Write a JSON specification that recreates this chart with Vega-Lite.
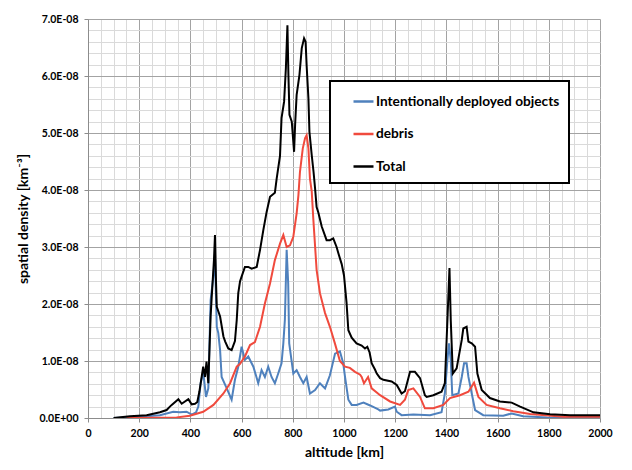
{
  "$schema": "https://vega.github.io/schema/vega-lite/v6.json",
  "autosize": "none",
  "width": 512,
  "height": 399,
  "padding": {"left": 88, "top": 19, "right": 32, "bottom": 52},
  "background": "white",
  "config": {
    "view": {"stroke": null},
    "font": "Lato",
    "axis": {
      "labelFont": "Lato",
      "labelFontWeight": "bold",
      "labelFontSize": 10.5,
      "labelColor": "black",
      "titleFont": "Lato",
      "titleFontWeight": "bold",
      "titleFontSize": 14,
      "titleColor": "black",
      "domainColor": "#8c8c8c",
      "tickSize": 4
    }
  },
  "data": {
    "values": [
      {"series": "Intentionally deployed objects", "altitude": 100, "density": 0},
      {"series": "Intentionally deployed objects", "altitude": 200, "density": 0.02e-8},
      {"series": "Intentionally deployed objects", "altitude": 281, "density": 0.05e-8},
      {"series": "Intentionally deployed objects", "altitude": 333, "density": 0.11e-8},
      {"series": "Intentionally deployed objects", "altitude": 359, "density": 0.1e-8},
      {"series": "Intentionally deployed objects", "altitude": 385, "density": 0.11e-8},
      {"series": "Intentionally deployed objects", "altitude": 405, "density": 0.06e-8},
      {"series": "Intentionally deployed objects", "altitude": 422, "density": 0.1e-8},
      {"series": "Intentionally deployed objects", "altitude": 431, "density": 0.2e-8},
      {"series": "Intentionally deployed objects", "altitude": 440, "density": 0.61e-8},
      {"series": "Intentionally deployed objects", "altitude": 450, "density": 0.81e-8},
      {"series": "Intentionally deployed objects", "altitude": 461, "density": 0.37e-8},
      {"series": "Intentionally deployed objects", "altitude": 470, "density": 0.52e-8},
      {"series": "Intentionally deployed objects", "altitude": 479, "density": 2.07e-8},
      {"series": "Intentionally deployed objects", "altitude": 490, "density": 2.5e-8},
      {"series": "Intentionally deployed objects", "altitude": 496, "density": 2.83e-8},
      {"series": "Intentionally deployed objects", "altitude": 503, "density": 1.6e-8},
      {"series": "Intentionally deployed objects", "altitude": 509, "density": 1.49e-8},
      {"series": "Intentionally deployed objects", "altitude": 516, "density": 1.19e-8},
      {"series": "Intentionally deployed objects", "altitude": 522, "density": 0.72e-8},
      {"series": "Intentionally deployed objects", "altitude": 542, "density": 0.52e-8},
      {"series": "Intentionally deployed objects", "altitude": 561, "density": 0.32e-8},
      {"series": "Intentionally deployed objects", "altitude": 574, "density": 0.67e-8},
      {"series": "Intentionally deployed objects", "altitude": 587, "density": 0.9e-8},
      {"series": "Intentionally deployed objects", "altitude": 600, "density": 1.25e-8},
      {"series": "Intentionally deployed objects", "altitude": 613, "density": 1.02e-8},
      {"series": "Intentionally deployed objects", "altitude": 626, "density": 1.08e-8},
      {"series": "Intentionally deployed objects", "altitude": 646, "density": 0.9e-8},
      {"series": "Intentionally deployed objects", "altitude": 665, "density": 0.61e-8},
      {"series": "Intentionally deployed objects", "altitude": 678, "density": 0.84e-8},
      {"series": "Intentionally deployed objects", "altitude": 691, "density": 0.72e-8},
      {"series": "Intentionally deployed objects", "altitude": 704, "density": 0.9e-8},
      {"series": "Intentionally deployed objects", "altitude": 717, "density": 0.72e-8},
      {"series": "Intentionally deployed objects", "altitude": 730, "density": 0.61e-8},
      {"series": "Intentionally deployed objects", "altitude": 743, "density": 0.78e-8},
      {"series": "Intentionally deployed objects", "altitude": 756, "density": 0.96e-8},
      {"series": "Intentionally deployed objects", "altitude": 763, "density": 1.31e-8},
      {"series": "Intentionally deployed objects", "altitude": 769, "density": 1.72e-8},
      {"series": "Intentionally deployed objects", "altitude": 776, "density": 2.95e-8},
      {"series": "Intentionally deployed objects", "altitude": 782, "density": 2.36e-8},
      {"series": "Intentionally deployed objects", "altitude": 786, "density": 1.31e-8},
      {"series": "Intentionally deployed objects", "altitude": 802, "density": 0.78e-8},
      {"series": "Intentionally deployed objects", "altitude": 815, "density": 0.84e-8},
      {"series": "Intentionally deployed objects", "altitude": 828, "density": 0.72e-8},
      {"series": "Intentionally deployed objects", "altitude": 841, "density": 0.61e-8},
      {"series": "Intentionally deployed objects", "altitude": 854, "density": 0.72e-8},
      {"series": "Intentionally deployed objects", "altitude": 867, "density": 0.43e-8},
      {"series": "Intentionally deployed objects", "altitude": 887, "density": 0.49e-8},
      {"series": "Intentionally deployed objects", "altitude": 906, "density": 0.61e-8},
      {"series": "Intentionally deployed objects", "altitude": 926, "density": 0.52e-8},
      {"series": "Intentionally deployed objects", "altitude": 945, "density": 0.75e-8},
      {"series": "Intentionally deployed objects", "altitude": 965, "density": 1.13e-8},
      {"series": "Intentionally deployed objects", "altitude": 984, "density": 1.17e-8},
      {"series": "Intentionally deployed objects", "altitude": 997, "density": 0.96e-8},
      {"series": "Intentionally deployed objects", "altitude": 1004, "density": 0.72e-8},
      {"series": "Intentionally deployed objects", "altitude": 1017, "density": 0.32e-8},
      {"series": "Intentionally deployed objects", "altitude": 1030, "density": 0.23e-8},
      {"series": "Intentionally deployed objects", "altitude": 1049, "density": 0.23e-8},
      {"series": "Intentionally deployed objects", "altitude": 1076, "density": 0.27e-8},
      {"series": "Intentionally deployed objects", "altitude": 1102, "density": 0.22e-8},
      {"series": "Intentionally deployed objects", "altitude": 1134, "density": 0.15e-8},
      {"series": "Intentionally deployed objects", "altitude": 1141, "density": 0.13e-8},
      {"series": "Intentionally deployed objects", "altitude": 1173, "density": 0.15e-8},
      {"series": "Intentionally deployed objects", "altitude": 1199, "density": 0.2e-8},
      {"series": "Intentionally deployed objects", "altitude": 1206, "density": 0.11e-8},
      {"series": "Intentionally deployed objects", "altitude": 1225, "density": 0.05e-8},
      {"series": "Intentionally deployed objects", "altitude": 1271, "density": 0.06e-8},
      {"series": "Intentionally deployed objects", "altitude": 1336, "density": 0.05e-8},
      {"series": "Intentionally deployed objects", "altitude": 1381, "density": 0.1e-8},
      {"series": "Intentionally deployed objects", "altitude": 1394, "density": 0.43e-8},
      {"series": "Intentionally deployed objects", "altitude": 1404, "density": 1.02e-8},
      {"series": "Intentionally deployed objects", "altitude": 1410, "density": 1.31e-8},
      {"series": "Intentionally deployed objects", "altitude": 1417, "density": 1.02e-8},
      {"series": "Intentionally deployed objects", "altitude": 1423, "density": 0.4e-8},
      {"series": "Intentionally deployed objects", "altitude": 1447, "density": 0.43e-8},
      {"series": "Intentionally deployed objects", "altitude": 1460, "density": 0.72e-8},
      {"series": "Intentionally deployed objects", "altitude": 1469, "density": 0.96e-8},
      {"series": "Intentionally deployed objects", "altitude": 1479, "density": 0.96e-8},
      {"series": "Intentionally deployed objects", "altitude": 1486, "density": 0.72e-8},
      {"series": "Intentionally deployed objects", "altitude": 1499, "density": 0.43e-8},
      {"series": "Intentionally deployed objects", "altitude": 1512, "density": 0.14e-8},
      {"series": "Intentionally deployed objects", "altitude": 1544, "density": 0.05e-8},
      {"series": "Intentionally deployed objects", "altitude": 1622, "density": 0.04e-8},
      {"series": "Intentionally deployed objects", "altitude": 1655, "density": 0.08e-8},
      {"series": "Intentionally deployed objects", "altitude": 1700, "density": 0.03e-8},
      {"series": "Intentionally deployed objects", "altitude": 1792, "density": 0.01e-8},
      {"series": "Intentionally deployed objects", "altitude": 2000, "density": 0},

      {"series": "debris", "altitude": 150, "density": 0},
      {"series": "debris", "altitude": 346, "density": 0.01e-8},
      {"series": "debris", "altitude": 398, "density": 0.04e-8},
      {"series": "debris", "altitude": 450, "density": 0.11e-8},
      {"series": "debris", "altitude": 490, "density": 0.23e-8},
      {"series": "debris", "altitude": 529, "density": 0.43e-8},
      {"series": "debris", "altitude": 555, "density": 0.61e-8},
      {"series": "debris", "altitude": 581, "density": 0.9e-8},
      {"series": "debris", "altitude": 594, "density": 0.95e-8},
      {"series": "debris", "altitude": 613, "density": 1.08e-8},
      {"series": "debris", "altitude": 633, "density": 1.28e-8},
      {"series": "debris", "altitude": 652, "density": 1.33e-8},
      {"series": "debris", "altitude": 672, "density": 1.6e-8},
      {"series": "debris", "altitude": 691, "density": 2.01e-8},
      {"series": "debris", "altitude": 711, "density": 2.36e-8},
      {"series": "debris", "altitude": 730, "density": 2.77e-8},
      {"series": "debris", "altitude": 750, "density": 3.06e-8},
      {"series": "debris", "altitude": 763, "density": 3.21e-8},
      {"series": "debris", "altitude": 776, "density": 3.0e-8},
      {"series": "debris", "altitude": 789, "density": 3.03e-8},
      {"series": "debris", "altitude": 802, "density": 3.18e-8},
      {"series": "debris", "altitude": 815, "density": 3.59e-8},
      {"series": "debris", "altitude": 822, "density": 3.91e-8},
      {"series": "debris", "altitude": 828, "density": 4.32e-8},
      {"series": "debris", "altitude": 839, "density": 4.73e-8},
      {"series": "debris", "altitude": 848, "density": 4.91e-8},
      {"series": "debris", "altitude": 854, "density": 4.96e-8},
      {"series": "debris", "altitude": 861, "density": 4.73e-8},
      {"series": "debris", "altitude": 867, "density": 4.2e-8},
      {"series": "debris", "altitude": 874, "density": 3.97e-8},
      {"series": "debris", "altitude": 880, "density": 3.5e-8},
      {"series": "debris", "altitude": 893, "density": 2.6e-8},
      {"series": "debris", "altitude": 906, "density": 2.19e-8},
      {"series": "debris", "altitude": 926, "density": 1.84e-8},
      {"series": "debris", "altitude": 945, "density": 1.6e-8},
      {"series": "debris", "altitude": 965, "density": 1.3e-8},
      {"series": "debris", "altitude": 984, "density": 1.0e-8},
      {"series": "debris", "altitude": 1004, "density": 0.9e-8},
      {"series": "debris", "altitude": 1023, "density": 0.88e-8},
      {"series": "debris", "altitude": 1043, "density": 0.81e-8},
      {"series": "debris", "altitude": 1063, "density": 0.76e-8},
      {"series": "debris", "altitude": 1069, "density": 0.72e-8},
      {"series": "debris", "altitude": 1078, "density": 0.61e-8},
      {"series": "debris", "altitude": 1094, "density": 0.72e-8},
      {"series": "debris", "altitude": 1108, "density": 0.52e-8},
      {"series": "debris", "altitude": 1141, "density": 0.4e-8},
      {"series": "debris", "altitude": 1180, "density": 0.29e-8},
      {"series": "debris", "altitude": 1219, "density": 0.23e-8},
      {"series": "debris", "altitude": 1238, "density": 0.32e-8},
      {"series": "debris", "altitude": 1251, "density": 0.49e-8},
      {"series": "debris", "altitude": 1271, "density": 0.52e-8},
      {"series": "debris", "altitude": 1297, "density": 0.37e-8},
      {"series": "debris", "altitude": 1316, "density": 0.17e-8},
      {"series": "debris", "altitude": 1349, "density": 0.17e-8},
      {"series": "debris", "altitude": 1388, "density": 0.23e-8},
      {"series": "debris", "altitude": 1414, "density": 0.35e-8},
      {"series": "debris", "altitude": 1453, "density": 0.4e-8},
      {"series": "debris", "altitude": 1486, "density": 0.46e-8},
      {"series": "debris", "altitude": 1508, "density": 0.62e-8},
      {"series": "debris", "altitude": 1525, "density": 0.37e-8},
      {"series": "debris", "altitude": 1557, "density": 0.23e-8},
      {"series": "debris", "altitude": 1609, "density": 0.17e-8},
      {"series": "debris", "altitude": 1661, "density": 0.12e-8},
      {"series": "debris", "altitude": 1727, "density": 0.07e-8},
      {"series": "debris", "altitude": 1857, "density": 0.02e-8},
      {"series": "debris", "altitude": 2000, "density": 0.02e-8},

      {"series": "Total", "altitude": 100, "density": 0},
      {"series": "Total", "altitude": 164, "density": 0.03e-8},
      {"series": "Total", "altitude": 229, "density": 0.05e-8},
      {"series": "Total", "altitude": 281, "density": 0.1e-8},
      {"series": "Total", "altitude": 307, "density": 0.14e-8},
      {"series": "Total", "altitude": 320, "density": 0.2e-8},
      {"series": "Total", "altitude": 327, "density": 0.23e-8},
      {"series": "Total", "altitude": 353, "density": 0.33e-8},
      {"series": "Total", "altitude": 366, "density": 0.25e-8},
      {"series": "Total", "altitude": 392, "density": 0.33e-8},
      {"series": "Total", "altitude": 405, "density": 0.24e-8},
      {"series": "Total", "altitude": 418, "density": 0.25e-8},
      {"series": "Total", "altitude": 427, "density": 0.28e-8},
      {"series": "Total", "altitude": 435, "density": 0.46e-8},
      {"series": "Total", "altitude": 444, "density": 0.72e-8},
      {"series": "Total", "altitude": 450, "density": 0.9e-8},
      {"series": "Total", "altitude": 457, "density": 0.72e-8},
      {"series": "Total", "altitude": 463, "density": 0.99e-8},
      {"series": "Total", "altitude": 470, "density": 0.61e-8},
      {"series": "Total", "altitude": 479, "density": 1.78e-8},
      {"series": "Total", "altitude": 483, "density": 2.1e-8},
      {"series": "Total", "altitude": 492, "density": 2.77e-8},
      {"series": "Total", "altitude": 496, "density": 3.21e-8},
      {"series": "Total", "altitude": 500, "density": 2.4e-8},
      {"series": "Total", "altitude": 503, "density": 1.95e-8},
      {"series": "Total", "altitude": 516, "density": 1.78e-8},
      {"series": "Total", "altitude": 529, "density": 1.43e-8},
      {"series": "Total", "altitude": 536, "density": 1.34e-8},
      {"series": "Total", "altitude": 548, "density": 1.22e-8},
      {"series": "Total", "altitude": 561, "density": 1.19e-8},
      {"series": "Total", "altitude": 574, "density": 1.35e-8},
      {"series": "Total", "altitude": 581, "density": 1.72e-8},
      {"series": "Total", "altitude": 587, "density": 2.19e-8},
      {"series": "Total", "altitude": 594, "density": 2.4e-8},
      {"series": "Total", "altitude": 600, "density": 2.48e-8},
      {"series": "Total", "altitude": 613, "density": 2.65e-8},
      {"series": "Total", "altitude": 626, "density": 2.65e-8},
      {"series": "Total", "altitude": 639, "density": 2.62e-8},
      {"series": "Total", "altitude": 659, "density": 2.65e-8},
      {"series": "Total", "altitude": 672, "density": 2.95e-8},
      {"series": "Total", "altitude": 685, "density": 3.3e-8},
      {"series": "Total", "altitude": 698, "density": 3.62e-8},
      {"series": "Total", "altitude": 711, "density": 3.88e-8},
      {"series": "Total", "altitude": 730, "density": 3.95e-8},
      {"series": "Total", "altitude": 737, "density": 4.2e-8},
      {"series": "Total", "altitude": 750, "density": 4.6e-8},
      {"series": "Total", "altitude": 756, "density": 5.26e-8},
      {"series": "Total", "altitude": 766, "density": 5.55e-8},
      {"series": "Total", "altitude": 773, "density": 6.14e-8},
      {"series": "Total", "altitude": 779, "density": 6.89e-8},
      {"series": "Total", "altitude": 783, "density": 6.0e-8},
      {"series": "Total", "altitude": 787, "density": 5.32e-8},
      {"series": "Total", "altitude": 796, "density": 5.2e-8},
      {"series": "Total", "altitude": 805, "density": 4.67e-8},
      {"series": "Total", "altitude": 809, "density": 5.14e-8},
      {"series": "Total", "altitude": 815, "density": 5.67e-8},
      {"series": "Total", "altitude": 826, "density": 6.02e-8},
      {"series": "Total", "altitude": 835, "density": 6.49e-8},
      {"series": "Total", "altitude": 844, "density": 6.66e-8},
      {"series": "Total", "altitude": 850, "density": 6.6e-8},
      {"series": "Total", "altitude": 854, "density": 6.19e-8},
      {"series": "Total", "altitude": 861, "density": 5.61e-8},
      {"series": "Total", "altitude": 865, "density": 5.02e-8},
      {"series": "Total", "altitude": 874, "density": 4.61e-8},
      {"series": "Total", "altitude": 881, "density": 4.32e-8},
      {"series": "Total", "altitude": 887, "density": 4.03e-8},
      {"series": "Total", "altitude": 893, "density": 3.7e-8},
      {"series": "Total", "altitude": 900, "density": 3.6e-8},
      {"series": "Total", "altitude": 913, "density": 3.36e-8},
      {"series": "Total", "altitude": 932, "density": 3.12e-8},
      {"series": "Total", "altitude": 945, "density": 3.12e-8},
      {"series": "Total", "altitude": 958, "density": 3.15e-8},
      {"series": "Total", "altitude": 971, "density": 3.0e-8},
      {"series": "Total", "altitude": 978, "density": 2.89e-8},
      {"series": "Total", "altitude": 991, "density": 2.7e-8},
      {"series": "Total", "altitude": 1000, "density": 2.5e-8},
      {"series": "Total", "altitude": 1010, "density": 2.02e-8},
      {"series": "Total", "altitude": 1017, "density": 1.54e-8},
      {"series": "Total", "altitude": 1030, "density": 1.41e-8},
      {"series": "Total", "altitude": 1049, "density": 1.31e-8},
      {"series": "Total", "altitude": 1069, "density": 1.27e-8},
      {"series": "Total", "altitude": 1082, "density": 1.22e-8},
      {"series": "Total", "altitude": 1091, "density": 1.25e-8},
      {"series": "Total", "altitude": 1100, "density": 1.15e-8},
      {"series": "Total", "altitude": 1108, "density": 0.96e-8},
      {"series": "Total", "altitude": 1121, "density": 0.85e-8},
      {"series": "Total", "altitude": 1128, "density": 0.78e-8},
      {"series": "Total", "altitude": 1141, "density": 0.7e-8},
      {"series": "Total", "altitude": 1154, "density": 0.67e-8},
      {"series": "Total", "altitude": 1186, "density": 0.64e-8},
      {"series": "Total", "altitude": 1206, "density": 0.58e-8},
      {"series": "Total", "altitude": 1225, "density": 0.43e-8},
      {"series": "Total", "altitude": 1238, "density": 0.47e-8},
      {"series": "Total", "altitude": 1258, "density": 0.81e-8},
      {"series": "Total", "altitude": 1277, "density": 0.81e-8},
      {"series": "Total", "altitude": 1297, "density": 0.7e-8},
      {"series": "Total", "altitude": 1316, "density": 0.4e-8},
      {"series": "Total", "altitude": 1323, "density": 0.37e-8},
      {"series": "Total", "altitude": 1349, "density": 0.4e-8},
      {"series": "Total", "altitude": 1381, "density": 0.46e-8},
      {"series": "Total", "altitude": 1394, "density": 0.61e-8},
      {"series": "Total", "altitude": 1404, "density": 1.72e-8},
      {"series": "Total", "altitude": 1412, "density": 2.63e-8},
      {"series": "Total", "altitude": 1417, "density": 1.72e-8},
      {"series": "Total", "altitude": 1425, "density": 0.78e-8},
      {"series": "Total", "altitude": 1440, "density": 0.87e-8},
      {"series": "Total", "altitude": 1460, "density": 1.37e-8},
      {"series": "Total", "altitude": 1466, "density": 1.57e-8},
      {"series": "Total", "altitude": 1479, "density": 1.6e-8},
      {"series": "Total", "altitude": 1486, "density": 1.34e-8},
      {"series": "Total", "altitude": 1499, "density": 1.31e-8},
      {"series": "Total", "altitude": 1512, "density": 1.25e-8},
      {"series": "Total", "altitude": 1521, "density": 0.78e-8},
      {"series": "Total", "altitude": 1538, "density": 0.49e-8},
      {"series": "Total", "altitude": 1570, "density": 0.35e-8},
      {"series": "Total", "altitude": 1609, "density": 0.29e-8},
      {"series": "Total", "altitude": 1655, "density": 0.27e-8},
      {"series": "Total", "altitude": 1688, "density": 0.2e-8},
      {"series": "Total", "altitude": 1740, "density": 0.1e-8},
      {"series": "Total", "altitude": 1805, "density": 0.065e-8},
      {"series": "Total", "altitude": 1883, "density": 0.05e-8},
      {"series": "Total", "altitude": 2000, "density": 0.05e-8}
    ]
  },
  "encoding": {
    "x": {
      "field": "altitude",
      "type": "quantitative",
      "scale": {"domain": [0, 2000], "nice": false},
      "axis": {
        "title": "altitude [km]",
        "values": [0, 50, 100, 150, 200, 250, 300, 350, 400, 450, 500, 550, 600, 650, 700, 750, 800, 850, 900, 950, 1000, 1050, 1100, 1150, 1200, 1250, 1300, 1350, 1400, 1450, 1500, 1550, 1600, 1650, 1700, 1750, 1800, 1850, 1900, 1950, 2000],
        "labelExpr": "datum.value % 200 == 0 ? datum.value : ''",
        "labelFlush": false,
        "labelOverlap": false,
        "labelPadding": 6,
        "titlePadding": 7,
        "tickColor": {"condition": {"test": "datum.value % 200 == 0", "value": "#8c8c8c"}, "value": "transparent"},
        "gridColor": {"condition": {"test": "datum.value % 200 == 0", "value": "#a3a3a3"}, "value": "#dadada"},
        "gridWidth": 1
      }
    },
    "y": {
      "field": "density",
      "type": "quantitative",
      "scale": {"domain": [0, 7e-8], "nice": false},
      "axis": {
        "title": "spatial density [km⁻³]",
        "values": [0, 0.2e-8, 0.4e-8, 0.6e-8, 0.8e-8, 1e-8, 1.2e-8, 1.4e-8, 1.6e-8, 1.8e-8, 2e-8, 2.2e-8, 2.4e-8, 2.6e-8, 2.8e-8, 3e-8, 3.2e-8, 3.4e-8, 3.6e-8, 3.8e-8, 4e-8, 4.2e-8, 4.4e-8, 4.6e-8, 4.8e-8, 5e-8, 5.2e-8, 5.4e-8, 5.6e-8, 5.8e-8, 6e-8, 6.2e-8, 6.4e-8, 6.6e-8, 6.8e-8, 7e-8],
        "labelExpr": "abs(datum.value * 1e8 - round(datum.value * 1e8)) < 0.01 ? (datum.value == 0 ? '0.0E+00' : format(datum.value * 1e8, '.1f') + 'E-08') : ''",
        "labelFlush": false,
        "labelOverlap": false,
        "labelPadding": 6,
        "titlePadding": 9,
        "tickColor": {"condition": {"test": "abs(datum.value * 1e8 - round(datum.value * 1e8)) < 0.01", "value": "#8c8c8c"}, "value": "transparent"},
        "gridColor": {"condition": {"test": "abs(datum.value * 1e8 - round(datum.value * 1e8)) < 0.01", "value": "#a3a3a3"}, "value": "#dadada"},
        "gridWidth": 1
      }
    },
    "color": {
      "field": "series",
      "type": "nominal",
      "scale": {
        "domain": ["Intentionally deployed objects", "debris", "Total"],
        "range": ["#4f81bd", "#f04a3d", "#000000"]
      },
      "legend": {
        "title": null,
        "orient": "none",
        "legendX": 242,
        "legendY": 62,
        "padding": 9,
        "fillColor": "white",
        "strokeColor": "black",
        "symbolType": "stroke",
        "symbolSize": 400,
        "symbolStrokeWidth": 2.5,
        "symbolOffset": 13,
        "labelFont": "Lato",
        "labelFontWeight": "bold",
        "labelFontSize": 13.7,
        "labelColor": "black",
        "labelOffset": 1,
        "labelLimit": 400,
        "rowPadding": 13.5,
        "encode": {"legend": {"update": {"strokeWidth": {"value": 2}}}}
      }
    }
  },
  "layer": [
    {
      "transform": [{"filter": "datum.series == 'Intentionally deployed objects'"}],
      "mark": {"type": "line", "strokeWidth": 2, "clip": true}
    },
    {
      "transform": [{"filter": "datum.series == 'debris'"}],
      "mark": {"type": "line", "strokeWidth": 2, "clip": true}
    },
    {
      "transform": [{"filter": "datum.series == 'Total'"}],
      "mark": {"type": "line", "strokeWidth": 2, "clip": true}
    }
  ]
}
